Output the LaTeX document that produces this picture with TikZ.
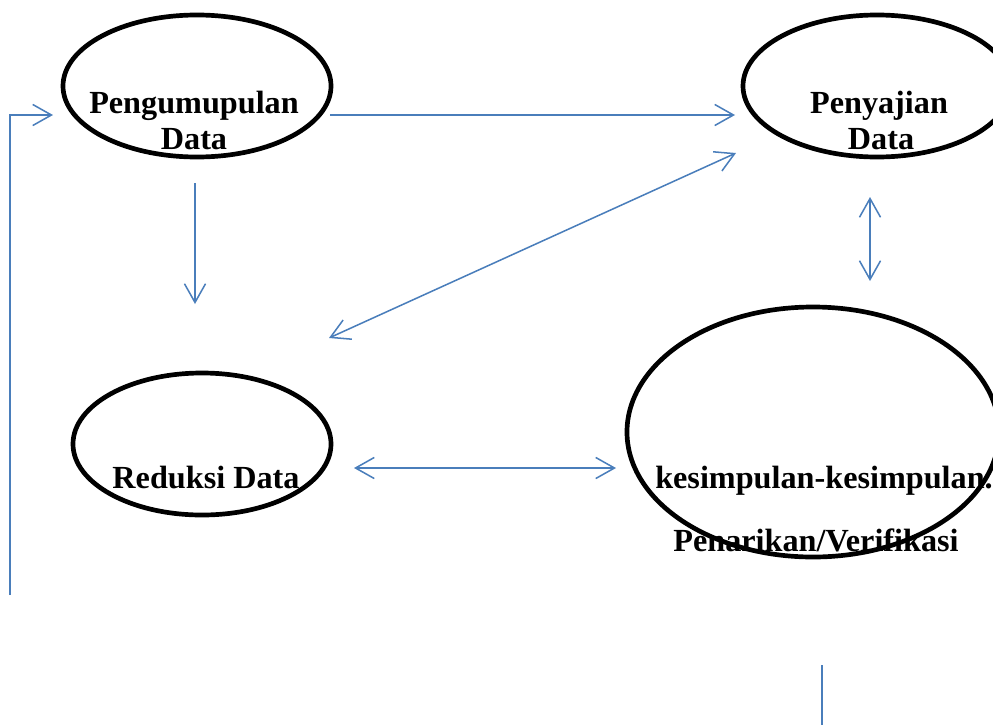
\documentclass[tikz,border=0pt]{standalone}
\usepackage{fontspec}
\setmainfont{Liberation Serif}
\usepackage{tikz}
\usetikzlibrary{arrows.meta,shapes.geometric}
\definecolor{linkblue}{HTML}{4A7EBB}
\tikzset{
    %Define style for the ellipses
    stage/.style={
           ellipse,
           draw=black,
           line width=4pt,
           inner sep=0pt,
           },
    %Define style for the texts
    lbl/.style={
           anchor=base,
           inner sep=0pt,
           font=\fontsize{27.5}{31}\selectfont\bfseries,
           },
    % Define arrow style
    flow/.style={
           draw=linkblue,
           line width=1.3pt,
           },
    tip/.style={
           -{Straight Barb[length=16pt,width=18pt,line width=1.3pt]},
           },
    both/.style={
           {Straight Barb[length=16pt,width=18pt,line width=1.3pt]}-{Straight Barb[length=16pt,width=18pt,line width=1.3pt]},
           }
}
\begin{document}
\begin{tikzpicture}[x=0.03cm,y=-0.03cm]
\useasboundingbox (0,0) rectangle (993,724);
\clip (0,0) rectangle (993,724);
% ellipses
\node[stage, minimum width=8.04cm, minimum height=4.26cm](kumpul) at (197,86){};
\node[stage, minimum width=8.04cm, minimum height=4.26cm](saji) at (877,86){};
\node[stage, minimum width=7.74cm, minimum height=4.26cm](reduksi) at (202,444){};
\node[stage, minimum width=11.16cm, minimum height=7.5cm](tarik) at (813,432){};
% texts
\node[lbl](t1) at (194,113){Pengumupulan};
\node[lbl](t2) at (194,149){Data};
\node[lbl](t3) at (879,113){Penyajian};
\node[lbl](t4) at (881,149){Data};
\node[lbl](t5) at (206,488){Reduksi Data};
\node[lbl](t6) at (824,488){kesimpulan-kesimpulan.};
\node[lbl](t7) at (816,551){Penarikan/Verifikasi};
% arrow ends
\coordinate (loopa) at (10,595);
\coordinate (loopb) at (10,115);
\coordinate (loopc) at (53,115);
\coordinate (k1) at (330,115);
\coordinate (s1) at (735,115);
\coordinate (k2) at (195,183);
\coordinate (r1) at (195,304);
\coordinate (r2) at (329,338);
\coordinate (s2) at (736,153);
\coordinate (s3) at (870,197);
\coordinate (p1) at (870,281);
\coordinate (r3) at (354,468);
\coordinate (p2) at (616,468);
\coordinate (p3) at (822,665);
\coordinate (p4) at (822,730);
% connectors
\draw[flow,tip] (loopa) -- (loopb) -- (loopc);
\draw[flow,tip] (k1) -- (s1);
\draw[flow,tip] (k2) -- (r1);
\draw[flow,both] (r2) -- (s2);
\draw[flow,both] (s3) -- (p1);
\draw[flow,both] (r3) -- (p2);
\draw[flow] (p3) -- (p4);
\end{tikzpicture}
\end{document}
